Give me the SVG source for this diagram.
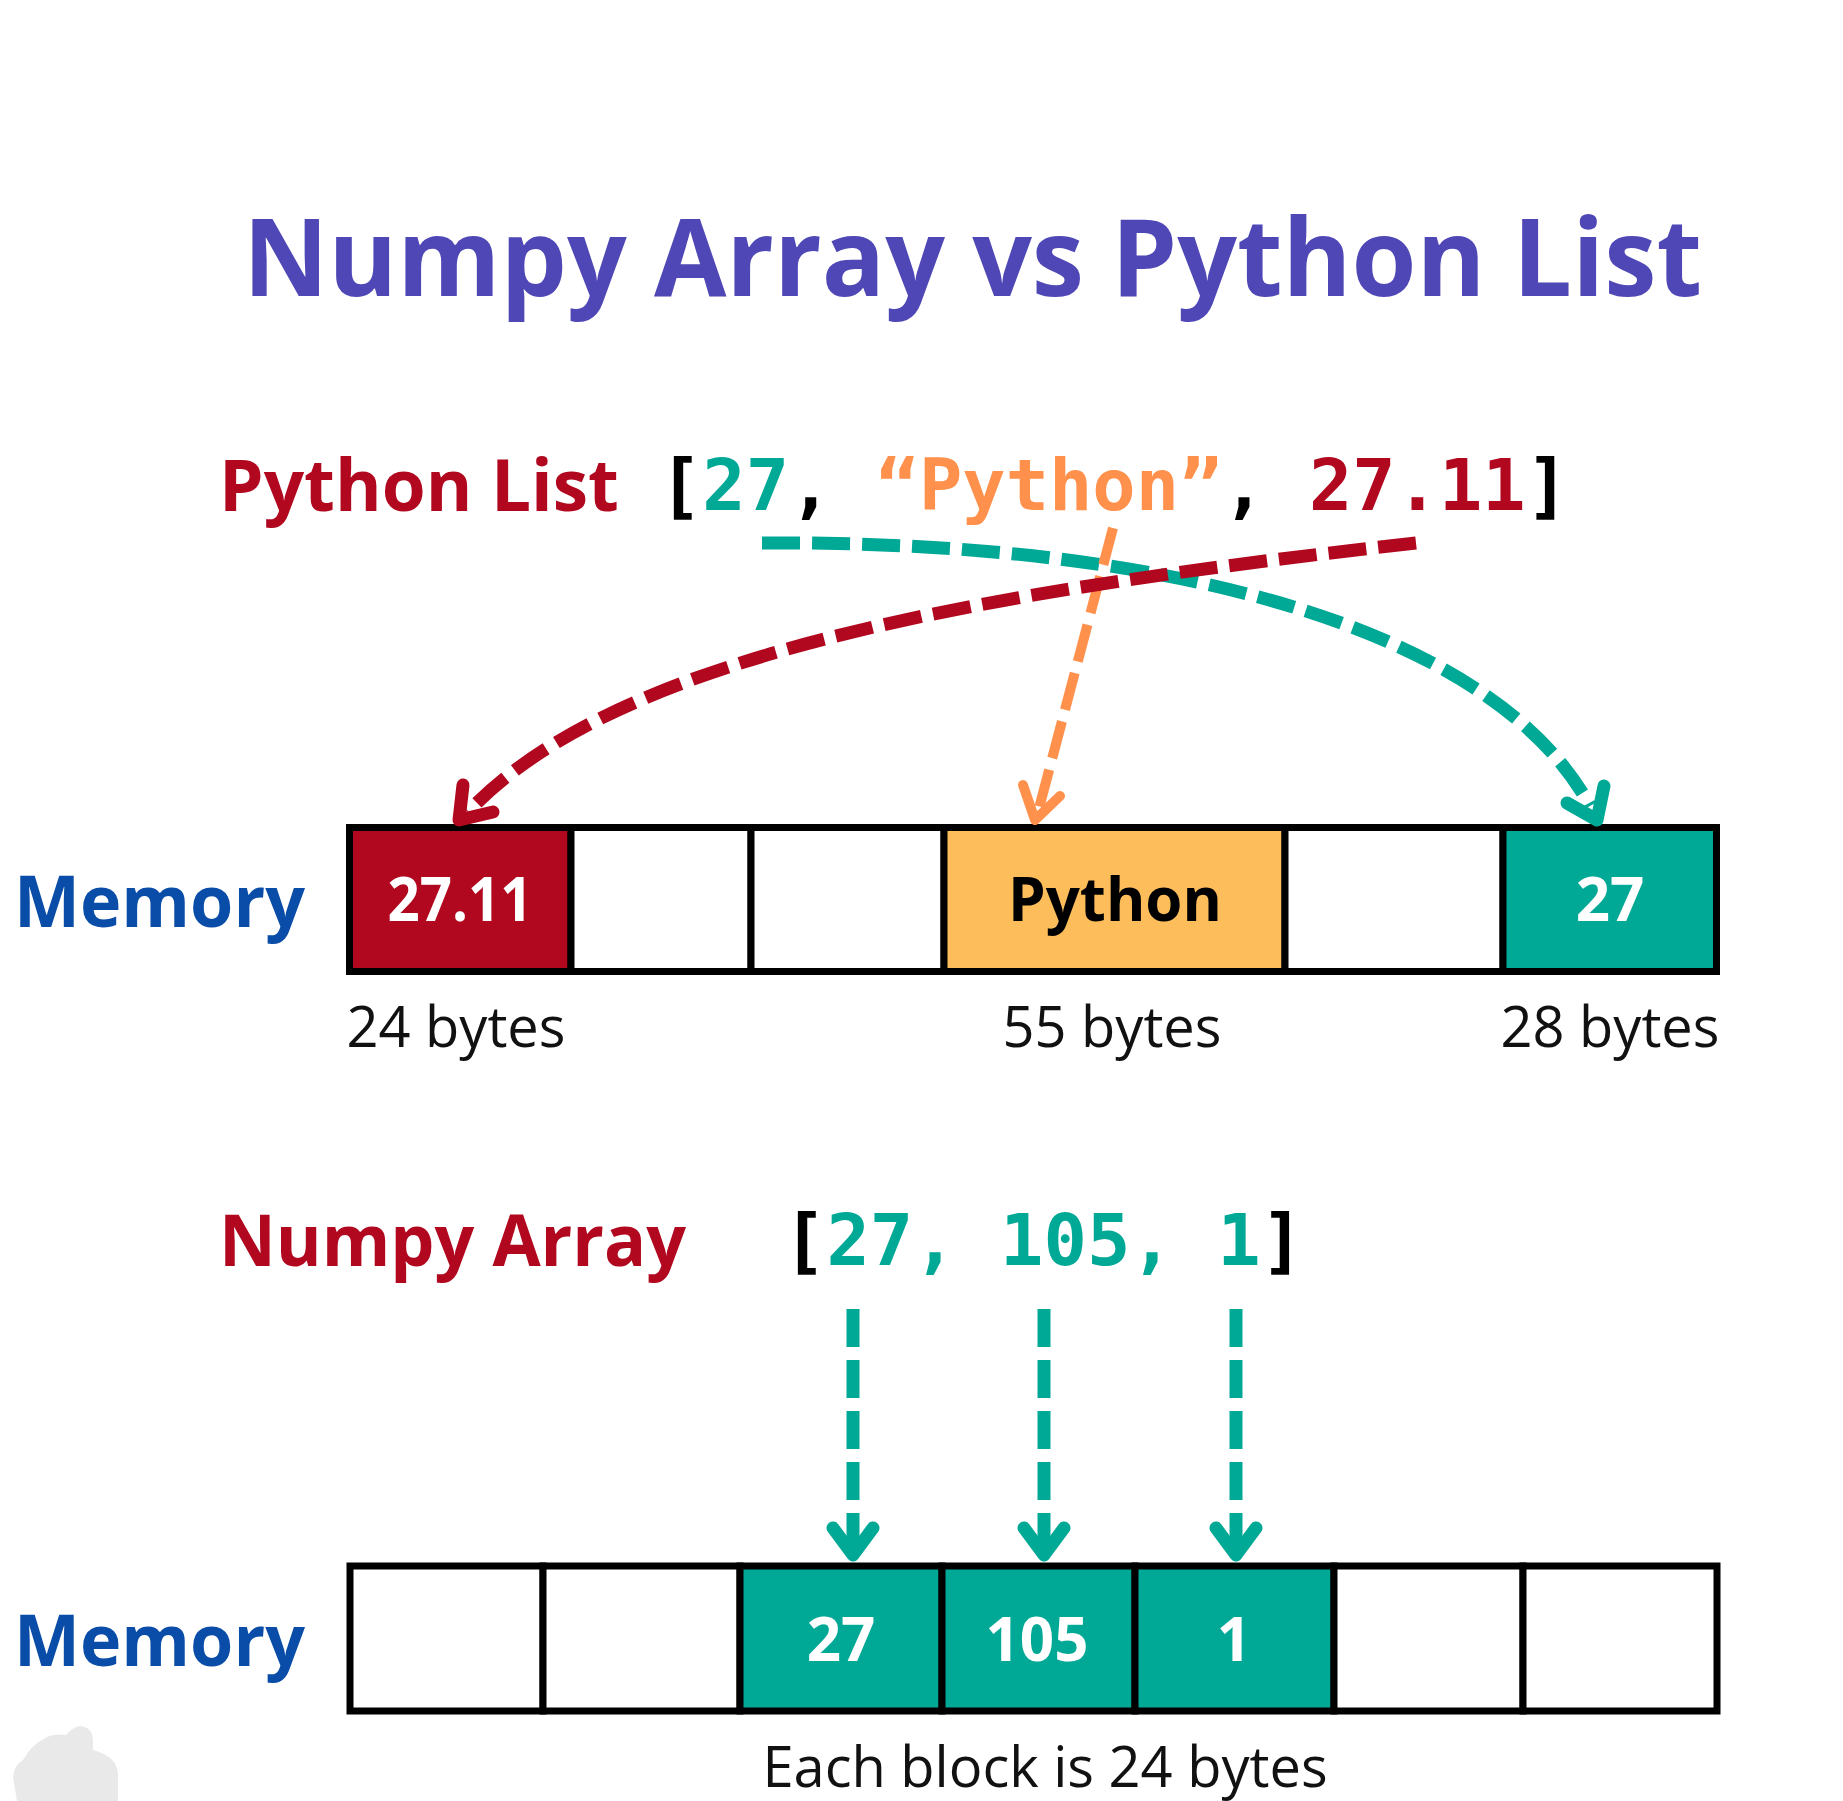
<svg xmlns="http://www.w3.org/2000/svg" width="1843" height="1801" viewBox="0 0 1843 1801">
<style>
.sans{font-family:"Open Sans","Noto Sans","Liberation Sans",sans-serif}
.b{font-weight:700}
.mono{font-family:"DejaVu Sans Mono","Liberation Mono",monospace;font-weight:700;font-size:72px}
.title{font-size:108px;fill:#4F47B5}
.lbl{font-size:71px;fill:#B1081F}
.mem{font-size:72px;fill:#0A4DA8}
.cell{stroke:#000;stroke-width:7}
.ctext{font-size:60px;text-anchor:middle}
.bytes{font-size:56px;fill:#111;text-anchor:middle}
.dash{fill:none;stroke-dasharray:38 12}
.head{fill:none;stroke-linecap:round;stroke-linejoin:round}
.teal{stroke:#00A896}
.red{stroke:#B1081F}
.orange{stroke:#FF914D}
</style>
<rect width="1843" height="1801" fill="#fff"/>
<path d="M17,1801 L13,1777 Q14,1765 23,1760 Q32,1745 42,1740 Q52,1733 66,1735 Q72,1728 80,1726 Q92,1727 93,1740 L93,1750 Q108,1754 114,1762 Q118,1768 118,1775 L118,1801 Z" fill="#e9e9e9"/>

<g id="title"><text class="sans b title" x="243" y="296" textLength="1459" lengthAdjust="spacingAndGlyphs">Numpy Array vs Python List</text></g>

<g id="python-list-label"><text class="sans b lbl" x="219" y="511" textLength="400" lengthAdjust="spacingAndGlyphs">Python List</text></g>
<g id="python-list-code"><text class="mono" x="659" y="510" textLength="910" lengthAdjust="spacingAndGlyphs"><tspan fill="#000">[</tspan><tspan fill="#00A896">27</tspan><tspan fill="#000">, </tspan><tspan fill="#FF914D">“Python”</tspan><tspan fill="#000">, </tspan><tspan fill="#B1081F">27.11</tspan><tspan fill="#000">]</tspan></text></g>

<g id="memory1-label"><text class="sans b mem" x="14" y="927" textLength="291" lengthAdjust="spacingAndGlyphs">Memory</text></g>
<g id="memory1">
<rect class="cell" x="349.5" y="827.5" width="221.5" height="144" fill="#B1081F"/>
<rect class="cell" x="571" y="827.5" width="180" height="144" fill="#fff"/>
<rect class="cell" x="751" y="827.5" width="193" height="144" fill="#fff"/>
<rect class="cell" x="944" y="827.5" width="341" height="144" fill="#FDBD5B"/>
<rect class="cell" x="1285" y="827.5" width="218" height="144" fill="#fff"/>
<rect class="cell" x="1503" y="827.5" width="213.5" height="144" fill="#00A896"/>
<text class="sans b ctext" x="460" y="921" fill="#fff" textLength="145" lengthAdjust="spacingAndGlyphs">27.11</text>
<text class="sans b ctext" x="1115" y="921" fill="#000">Python</text>
<text class="sans b ctext" x="1610" y="921" fill="#fff">27</text>
</g>
<g id="bytes1">
<text class="sans bytes" x="456" y="1047">24 bytes</text>
<text class="sans bytes" x="1112" y="1047">55 bytes</text>
<text class="sans bytes" x="1610" y="1047">28 bytes</text>
</g>

<g id="numpy-label"><text class="sans b lbl" x="219" y="1266" textLength="467" lengthAdjust="spacingAndGlyphs">Numpy Array</text></g>
<g id="numpy-code"><text class="mono" x="783" y="1265" textLength="521" lengthAdjust="spacingAndGlyphs"><tspan fill="#000">[</tspan><tspan fill="#00A896">27, 105, 1</tspan><tspan fill="#000">]</tspan></text></g>

<g id="memory2-label"><text class="sans b mem" x="14" y="1666" textLength="291" lengthAdjust="spacingAndGlyphs">Memory</text></g>
<g id="memory2">
<rect class="cell" x="350" y="1566" width="193" height="145" fill="#fff"/>
<rect class="cell" x="543" y="1566" width="197" height="145" fill="#fff"/>
<rect class="cell" x="740" y="1566" width="202" height="145" fill="#00A896"/>
<rect class="cell" x="942" y="1566" width="193" height="145" fill="#00A896"/>
<rect class="cell" x="1135" y="1566" width="199" height="145" fill="#00A896"/>
<rect class="cell" x="1334" y="1566" width="189" height="145" fill="#fff"/>
<rect class="cell" x="1523" y="1566" width="194" height="145" fill="#fff"/>
<text class="sans b ctext" x="841" y="1661" fill="#fff">27</text>
<text class="sans b ctext" x="1037" y="1661" fill="#fff">105</text>
<text class="sans b ctext" x="1234" y="1661" fill="#fff">1</text>
</g>
<g id="bytes2"><text class="sans bytes" x="1045" y="1787">Each block is 24 bytes</text></g>

<g id="connectors">
<path class="dash teal" stroke-width="13" d="M762,543 C1200,540 1500,640 1590,806"/>
<path class="head teal" stroke-width="13" d="M1567,803 L1597,820 L1604,786"/>
<path class="dash orange" stroke-width="10" d="M1113,528 L1038,812"/>
<path class="head orange" stroke-width="10" d="M1023,785 L1035,820 L1060,796"/>
<path class="dash red" stroke-width="13" d="M1416,543 C1000,590 620,650 468,812"/>
<path class="head red" stroke-width="13" d="M463,785 L459,820 L493,812"/>
<g stroke-width="13">
<path class="dash teal" style="stroke-dasharray:38 13" d="M853,1309 L853,1551"/>
<path class="dash teal" style="stroke-dasharray:38 13" d="M1044,1309 L1044,1551"/>
<path class="dash teal" style="stroke-dasharray:38 13" d="M1236,1309 L1236,1551"/>
<path class="head teal" d="M833,1528 L853,1555 L873,1528"/>
<path class="head teal" d="M1024,1528 L1044,1555 L1064,1528"/>
<path class="head teal" d="M1216,1528 L1236,1555 L1256,1528"/>
</g>
</g>
</svg>
